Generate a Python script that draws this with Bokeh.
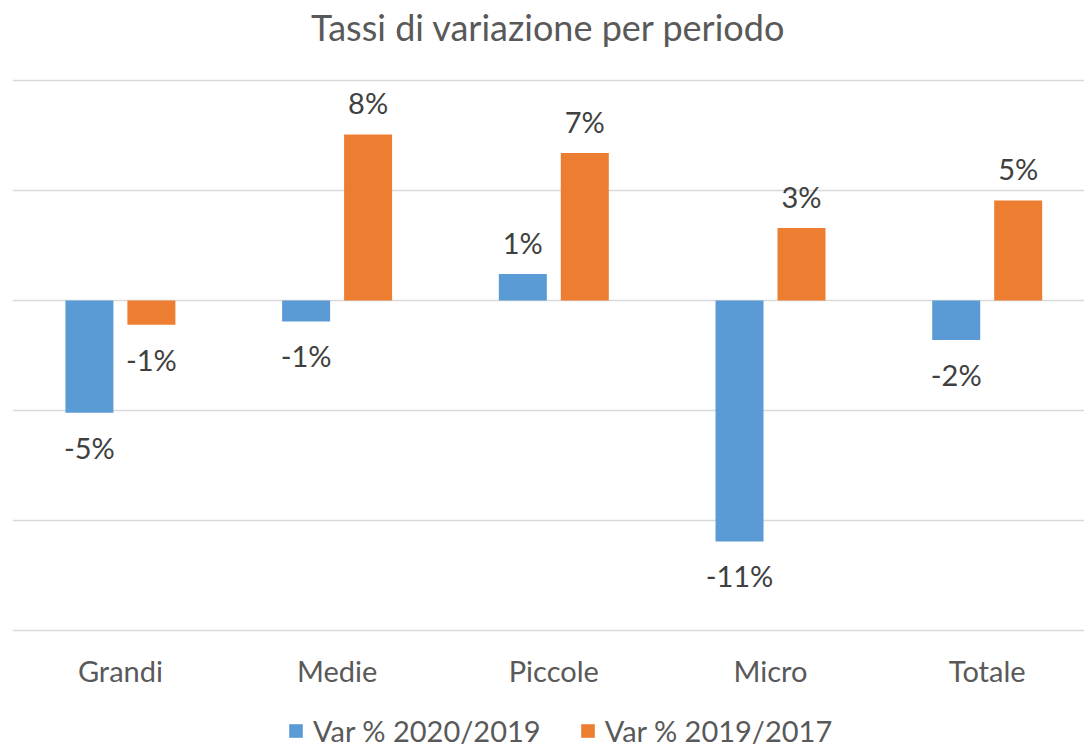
from bokeh.plotting import figure
from bokeh.models import FixedTicker, Legend, LegendItem, ColumnDataSource, Range1d
from bokeh.core.properties import value
from bokeh.embed import file_html
from bokeh.resources import INLINE

categories = ["Grandi", "Medie", "Piccole", "Micro", "Totale"]
var_2020_2019 = [-5.1, -0.95, 1.2, -10.95, -1.8]
var_2019_2017 = [-1.1, 7.55, 6.7, 3.3, 4.55]
series_names = ["Var % 2020/2019", "Var % 2019/2017"]
grid_values = [-15, -10, -5, 0, 5, 10]

BLUE = "#5B9BD5"
ORANGE = "#ED7D31"
FONT = "Lato"
TEXT = "#595959"
LABEL = "#404040"

# frame: page y 54..748 at 22 px per unit, zero at y=300
p = figure(width=1084, height=748, output_backend="svg", toolbar_location=None,
           x_range=Range1d(-0.498, 4.449), y_range=Range1d(-20.3636, 11.1818),
           min_border_left=12, min_border_right=0, min_border_top=54, min_border_bottom=0)
p.outline_line_color = None
p.background_fill_color = "white"
p.border_fill_color = "white"

p.title.text = "Tassi di variazione per periodo"
p.title.align = "center"
p.title.vertical_align = "top"
p.title.text_font = FONT
p.title.text_font_size = "36px"
p.title.text_font_style = "normal"
p.title.text_color = TEXT
p.title.standoff = 8

xs = list(range(len(categories)))
off = 0.143
bw = 0.2215
r1 = p.vbar(x=[x - off for x in xs], top=var_2020_2019, bottom=0, width=bw,
            fill_color=BLUE, line_color=None)
r2 = p.vbar(x=[x + off for x in xs], top=var_2019_2017, bottom=0, width=bw,
            fill_color=ORANGE, line_color=None)

def add_labels(vals, shift):
    pos = [(x + shift, v, f"{round(v):.0f}%") for x, v in zip(xs, vals) if v >= 0]
    neg = [(x + shift, v, f"{round(v):.0f}%") for x, v in zip(xs, vals) if v < 0]
    for data, base, yoff in ((pos, "bottom", -14), (neg, "top", 17)):
        if not data:
            continue
        src = ColumnDataSource(dict(x=[d[0] for d in data], y=[d[1] for d in data],
                                    t=[d[2] for d in data]))
        p.text(x="x", y="y", text="t", source=src, text_align="center",
               text_baseline=base, y_offset=yoff, text_font=value(FONT),
               text_font_size="29px", text_color=LABEL)

add_labels(var_2020_2019, -off)
add_labels(var_2019_2017, off)

p.yaxis.visible = False
p.ygrid.ticker = FixedTicker(ticks=grid_values)
p.ygrid.grid_line_color = "#D9D9D9"
p.ygrid.grid_line_width = 1.5
p.xgrid.grid_line_color = None

p.xaxis.fixed_location = -15.0909
p.xaxis.ticker = FixedTicker(ticks=xs)
p.xaxis.major_label_overrides = {i: c for i, c in enumerate(categories)}
p.xaxis.axis_line_color = None
p.xaxis.major_tick_line_color = None
p.xaxis.minor_tick_line_color = None
p.xaxis.major_tick_out = 0
p.xaxis.major_tick_in = 0
p.xaxis.major_label_standoff = 20
p.xaxis.major_label_text_font = FONT
p.xaxis.major_label_text_font_size = "29px"
p.xaxis.major_label_text_color = TEXT

legend = Legend(items=[LegendItem(label=series_names[0], renderers=[r1]),
                       LegendItem(label=series_names[1], renderers=[r2])],
                orientation="horizontal", location=(275, 0),
                label_text_font=FONT, label_text_font_size="29px",
                label_text_color=TEXT, glyph_width=17, glyph_height=17,
                spacing=38, label_standoff=9, padding=0, margin=0,
                border_line_color=None, background_fill_alpha=0)
p.add_layout(legend, "center")

open("out.html", "w").write(file_html(p, INLINE))
